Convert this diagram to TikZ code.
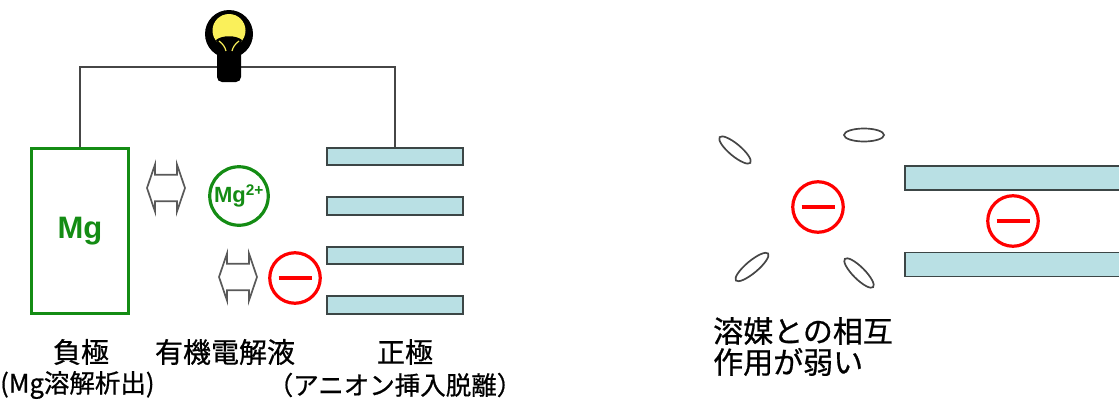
\documentclass[tikz,border=0pt]{standalone}
\usepackage{fontspec}
\setmainfont{Liberation Sans}
\newfontfamily\jp[FakeBold=0.7]{Noto Sans CJK JP}
\definecolor{mggreen}{RGB}{20,140,20}
\definecolor{ionred}{RGB}{255,0,0}
\definecolor{wiregray}{RGB}{70,70,70}
\definecolor{platefill}{RGB}{185,224,228}
\definecolor{plateedge}{RGB}{60,70,70}
\definecolor{bulbyellow}{RGB}{250,240,90}
\begin{document}
\begin{tikzpicture}[x=1pt,y=-1pt,
  wire/.style={draw=wiregray, line width=1.8pt},
  anode/.style={draw=mggreen, line width=3pt, minimum width=97pt, minimum height=165pt,
    inner sep=0pt, text=mggreen, font=\bfseries\fontsize{31}{31}\selectfont},
  plate/.style={draw=plateedge, fill=platefill, line width=1.9pt, inner sep=0pt,
    minimum width=136pt, minimum height=17.5pt},
  longplate/.style={draw=plateedge, fill=platefill, line width=1.9pt, inner sep=0pt,
    minimum width=230pt, minimum height=24pt, anchor=west},
  anion/.style={circle, draw=ionred, line width=3.2pt, minimum size=50.5pt, inner sep=0pt},
  cation/.style={circle, draw=mggreen, line width=3.2pt, minimum size=58.5pt, inner sep=0pt,
    text=mggreen, font=\bfseries\fontsize{22}{22}\selectfont},
  solvent/.style={draw=wiregray, line width=1.7pt},
  arrowline/.style={draw=wiregray!90, fill=white, line width=1.7pt, line join=miter},
  label/.style={inner sep=0pt, font=\jp\fontsize{28}{28}\selectfont},
  sublabel/.style={inner sep=0pt, font=\jp\fontsize{25.5}{25.5}\selectfont},
  exchangearrow/.pic={
    \draw[arrowline] (-19,0) -- (-11,-23.5) -- (-11,-13.3) -- (11,-13.3) -- (11,-23.5)
      -- (19,0) -- (11,23.5) -- (11,13.3) -- (-11,13.3) -- (-11,23.5) -- cycle;
  }
]
\useasboundingbox (0,0) rectangle (1119,399);

% ---- cell: Mg anode, cathode plates ----
\node[anode] (mg) at (80,231) {Mg};
\node[plate] (p1) at (395,156.5) {};
\node[plate] (p2) at (395,206) {};
\node[plate] (p3) at (395,255.5) {};
\node[plate] (p4) at (395,305) {};

% external circuit through the lamp
\coordinate (lamp) at (229,67);
\draw[wire] (mg.north) |- (lamp) -| (p1.north);

% lamp
\fill[black] (229,34) circle (24);
\fill[black, rounded corners=5] (217,44) rectangle (241,82);
\fill[bulbyellow] (229,30.5) circle (16.5);
\fill[black] (216,40) .. controls (222,35) and (236,35) .. (242,40) -- (236,53) -- (222,53) -- cycle;
\draw[bulbyellow, line width=1.2pt] (219,41) .. controls (223,44) and (225,47) .. (226,51);
\draw[bulbyellow, line width=1.2pt] (239,41) .. controls (235,44) and (233,47) .. (232,51);

% ions in the electrolyte
\node[cation] (mgion) at (239,196) {Mg\textsuperscript{2+}};
\node[anion] (an1) at (295,278) {\color{ionred}\rule{33pt}{3.4pt}};
\pic at (166,188) {exchangearrow};
\pic at (238,277) {exchangearrow};

% captions
\node[label] (neg) at (81,352) {負極};
\node[label] (elec) at (225,352) {有機電解液};
\node[label] (pos) at (405,352) {正極};
\node[sublabel, anchor=west] (negsub) at (0,385) {(Mg溶解析出)};
\node[sublabel] (possub) at (395,385) {（アニオン挿入脱離）};

% ---- anion between the layers ----
\draw[solvent] (735,150) ellipse [x radius=20, y radius=6, rotate=-40];
\draw[solvent] (864,135) ellipse [x radius=20, y radius=6.5];
\draw[solvent] (752,267) ellipse [x radius=21, y radius=6, rotate=40];
\draw[solvent] (859,273) ellipse [x radius=20, y radius=6, rotate=-45];
\node[anion] (an2) at (818,207) {\color{ionred}\rule{33pt}{3.4pt}};
\node[longplate] (q1) at (904,178) {};
\node[longplate] (q2) at (904,264.5) {};
\node[anion] (an3) at (1013,221) {\color{ionred}\rule{33pt}{3.4pt}};
\node[inner sep=0pt, anchor=north west, align=left,
  font=\jp\fontsize{30}{31}\selectfont] (note) at (713,317) {溶媒との相互\\作用が弱い};
\end{tikzpicture}
\end{document}
